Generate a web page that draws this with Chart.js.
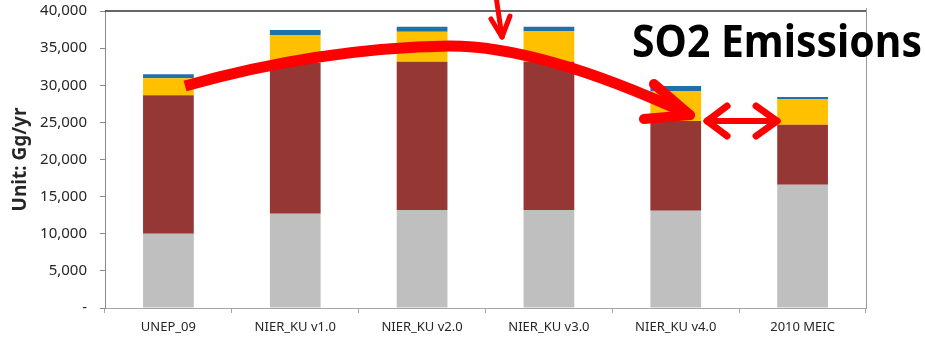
<!DOCTYPE html>
<html>
<head>
<meta charset="utf-8">
<script src="https://cdn.jsdelivr.net/npm/chart.js@4"></script>
<style>
    html, body { margin: 0; padding: 0; background: #fff; }
    #wrap { width: 925px; height: 338px; position: relative; }
</style>
</head>
<body>
<div id="wrap"><canvas id="chart"></canvas></div>
<script>
// values, Gg/yr
const categories = ["UNEP_09", "NIER_KU v1.0", "NIER_KU v2.0", "NIER_KU v3.0", "NIER_KU v4.0", "2010 MEIC"];
const graySeries = [10000, 12700, 13200, 13200, 13100, 16600];
const redSeries = [18650, 20300, 19970, 19970, 12080, 8090];
const yellowSeries = [2280, 3770, 4040, 4130, 4040, 3460];
const blueSeries = [540, 670, 680, 590, 680, 270];
const yTicks = [0, 5000, 10000, 15000, 20000, 25000, 30000, 35000, 40000];

document.addEventListener("DOMContentLoaded", function () {
    const ctx = document.getElementById("chart").getContext("2d");
    const textColor = "#262626";

    // frame on top and right of the plot area
    const frame = {
        id: "frame",
        afterDatasetsDraw(chart) {
            const c = chart.ctx, a = chart.chartArea;
            c.save();
            c.lineWidth = 1.5;
            c.strokeStyle = "#333";
            c.beginPath();
            c.moveTo(a.left, a.top);
            c.lineTo(a.right, a.top);
            c.stroke();
            c.lineWidth = 1;
            c.strokeStyle = "#999";
            c.beginPath();
            c.moveTo(a.right + 0.5, a.top - 3);
            c.lineTo(a.right + 0.5, a.bottom);
            c.stroke();
            c.restore();
        }
    };

    // hand-drawn red arrows and the title, placed with the chart's scales
    const annotate = {
        id: "annotate",
        afterDraw(chart) {
            const c = chart.ctx;
            const sx = chart.scales.x, sy = chart.scales.y;
            const px = (i) => sx.getPixelForValue(i);
            const py = (v) => sy.getPixelForValue(v);
            const red = "#ff0000";

            function seg(x1, y1, x2, y2, w, cap) {
                c.lineWidth = w;
                c.lineCap = cap || "round";
                c.beginPath();
                c.moveTo(x1, y1);
                c.lineTo(x2, y2);
                c.stroke();
            }

            c.save();
            c.strokeStyle = red;

            // big curved arrow
            const x0 = px(0.131), y0 = py(29900);
            const x3 = px(4.112), y3 = py(25990);
            c.lineWidth = 11;
            c.lineCap = "butt";
            c.lineJoin = "round";
            c.beginPath();
            c.moveTo(x0, y0);
            c.quadraticCurveTo(px(1.195), py(35017), px(2.22), py(35286));
            c.quadraticCurveTo(px(2.93), py(35286), x3 - 4, y3 - 2);
            c.stroke();
            seg(x3, y3, x3 - 36, y3 - 31, 10);
            seg(x3, y3, x3 - 46, y3 + 4, 10);

            // small arrow from the top
            const tx = px(2.63), ty = py(36500);
            seg(tx - 6, -4, tx, ty, 5);
            seg(tx, ty, tx - 11, ty - 18, 5);
            seg(tx, ty, tx + 8, ty - 21, 5);

            // double-headed arrow
            const ly = py(25185);
            const lx = px(4.247), rx = px(4.799);
            seg(lx + 2, ly, rx - 2, ly, 6);
            seg(lx, ly, lx + 20, ly - 15, 7);
            seg(lx, ly, lx + 20, ly + 15, 7);
            seg(rx, ly, rx - 21, ly - 15, 7);
            seg(rx, ly, rx - 21, ly + 15, 7);

            // title text
            c.fillStyle = "#000";
            c.font = "bold 44px 'Noto Sans'";
            c.textBaseline = "alphabetic";
            c.textAlign = "left";
            c.fillText("SO2 Emissions", 632, 57, 290);
            c.restore();
        }
    };

    const chart = new Chart(ctx, {
        type: "bar",
        data: {
            labels: categories,
            datasets: [
                { label: "Series 1", data: graySeries, backgroundColor: "#bfbfbf" },
                { label: "Series 2", data: redSeries, backgroundColor: "#953735" },
                { label: "Series 3", data: yellowSeries, backgroundColor: "#ffc000" },
                { label: "Series 4", data: blueSeries, backgroundColor: "#1f72a6" },
            ],
        },
        options: {
            responsive: true,
            maintainAspectRatio: false,
            animation: false,
            datasets: {
                bar: { categoryPercentage: 1, barPercentage: 0.4 },
            },
            layout: { padding: { top: 11, right: 59, bottom: 0, left: 0 } },
            plugins: {
                legend: { display: false },
                tooltip: { enabled: false },
            },
            scales: {
                x: {
                    stacked: true,
                    grid: { drawOnChartArea: false, drawTicks: true, tickLength: 5, color: "#a6a6a6", offset: true },
                    border: { color: "#a6a6a6", width: 1 },
                    ticks: {
                        color: textColor,
                        font: { family: "'Noto Sans'", size: 13 },
                        padding: 6,
                        maxRotation: 0,
                        autoSkip: false,
                    },
                    afterFit(scale) { scale.height = 30; },
                },
                y: {
                    stacked: true,
                    min: 0,
                    max: 40000,
                    afterBuildTicks(scale) {
                        scale.ticks = yTicks.map((v) => ({ value: v }));
                    },
                    grid: { drawOnChartArea: false, drawTicks: true, tickLength: 5, color: "#8c8c8c" },
                    border: { color: "#8c8c8c", width: 1 },
                    ticks: {
                        color: textColor,
                        font: { family: "'Noto Sans'", size: 15 },
                        padding: 13,
                        callback: (v) => (v === 0 ? "-" : v.toLocaleString("en-US")),
                    },
                    title: {
                        display: true,
                        text: "Unit: Gg/yr",
                        color: textColor,
                        font: { family: "'Noto Sans'", size: 19, weight: "bold" },
                        padding: { top: 9, bottom: 0 },
                    },
                    afterFit(scale) {
                        scale.width = 105;
                        scale.paddingTop = 0;
                        scale.paddingBottom = 0;
                    },
                },
            },
        },
        plugins: [frame, annotate],
    });
});
</script>
</body>
</html>
